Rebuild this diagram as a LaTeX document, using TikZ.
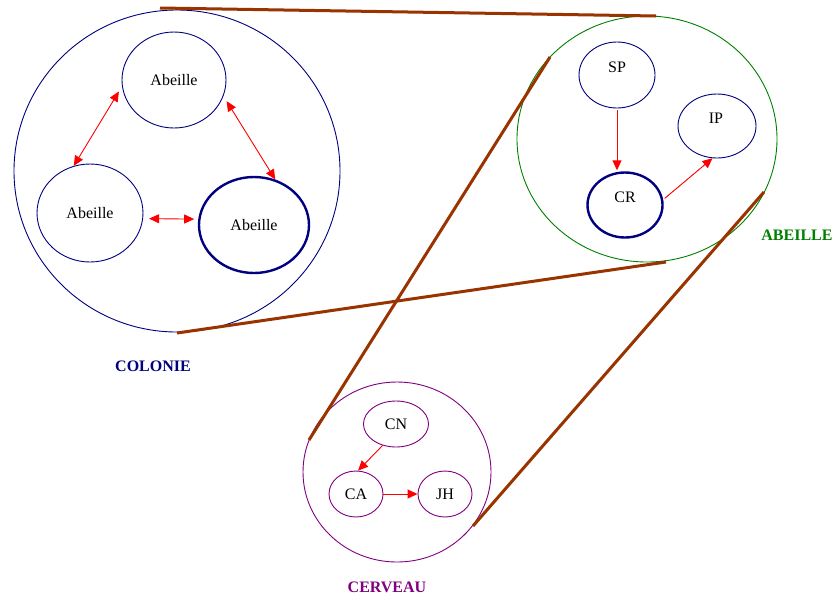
\documentclass[tikz,border=0pt]{standalone}
\usepackage{fontspec}
\setmainfont{Liberation Serif}
\usetikzlibrary{shapes.geometric,arrows.meta}
\definecolor{navyc}{RGB}{0,0,128}
\definecolor{greenc}{RGB}{0,128,0}
\definecolor{purplec}{RGB}{128,0,128}
\definecolor{brownc}{RGB}{153,51,0}
\definecolor{redc}{RGB}{255,0,0}
\begin{document}
\begin{tikzpicture}[x=1pt,y=-1pt,
  every node/.style={font=\fontsize{16}{19}\selectfont},
  ell/.style={ellipse,draw,inner sep=0pt,line width=0.9pt},
  thick ell/.style={ell,line width=2.4pt},
  link/.style={draw=brownc,line width=3pt},
  arr/.style={draw=redc,line width=0.9pt,-{Triangle[length=10pt,width=9pt]},fill=redc},
  darr/.style={draw=redc,line width=0.9pt,{Triangle[length=10pt,width=9pt]}-{Triangle[length=10pt,width=9pt]}},
  lab/.style={font=\fontsize{16}{19}\selectfont\bfseries}
]
\useasboundingbox (0,0) rectangle (837,598);
% Colonie
\node[ell,draw=navyc,minimum width=326pt,minimum height=322pt] (col) at (177,171) {};
\node[ell,draw=navyc,minimum width=104pt,minimum height=96pt] (ab1) at (174,80) {Abeille};
\node[ell,draw=navyc,minimum width=106pt,minimum height=98pt] (ab2) at (90,213) {Abeille};
\node[thick ell,draw=navyc,minimum width=110pt,minimum height=96pt] (ab3) at (254,225) {Abeille};
\draw[darr,shorten <=6pt] (ab1.187) -- (ab2.109);
\draw[darr,shorten <=6pt] (ab1.342) -- (ab3.65);
\draw[darr,shorten <=6pt,shorten >=4pt] (ab2.354) -- (ab3.174);
\node[lab,text=navyc] (tcol) at (153,366) {COLONIE};
% Abeille
\node[ell,draw=greenc,minimum width=260pt,minimum height=246pt] (abe) at (647,139) {};
\node[ell,draw=navyc,minimum width=76pt,minimum height=66pt] (sp) at (617,75) {};
\node (tsp) at (617,67) {SP};
\node[ell,draw=navyc,minimum width=78pt,minimum height=64pt] (ip) at (717,126) {};
\node (tip) at (716,118) {IP};
\node[thick ell,draw=navyc,minimum width=75pt,minimum height=65pt] (cr) at (625,205) {};
\node (tcr) at (625,197) {CR};
\draw[arr,shorten <=2pt,shorten >=1pt] (sp.south) -- (sp.south |- cr.north);
\draw[arr,shorten <=2pt] (cr.8) -- (ip.262);
\node[lab,text=greenc] (tabe) at (797,235) {ABEILLE};
% Cerveau
\node[ell,draw=purplec,minimum width=188pt,minimum height=180pt] (cer) at (397,472) {};
\node[ell,draw=purplec,minimum width=65pt,minimum height=46pt] (cn) at (396,424) {CN};
\node[ell,draw=purplec,minimum width=54pt,minimum height=46pt] (ca) at (356,494) {CA};
\node[ell,draw=purplec,minimum width=54pt,minimum height=46pt] (jh) at (445,494) {JH};
\draw[arr] (cn.238) -- (ca.85);
\draw[arr] (ca.east) -- (jh.west);
\node[lab,text=purplec] (tcer) at (387,587) {CERVEAU};
% links
\coordinate (l1a) at (160,8);
\coordinate (l1b) at (656,16);
\coordinate (l2a) at (177,333);
\coordinate (l2b) at (666,262);
\coordinate (l3a) at (550,57);
\coordinate (l3b) at (309,440);
\coordinate (l4a) at (764,192);
\coordinate (l4b) at (473,526);
\draw[link] (l1a) -- (l1b);
\draw[link] (l2a) -- (l2b);
\draw[link] (l3a) -- (l3b);
\draw[link] (l4a) -- (l4b);
\end{tikzpicture}
\end{document}
